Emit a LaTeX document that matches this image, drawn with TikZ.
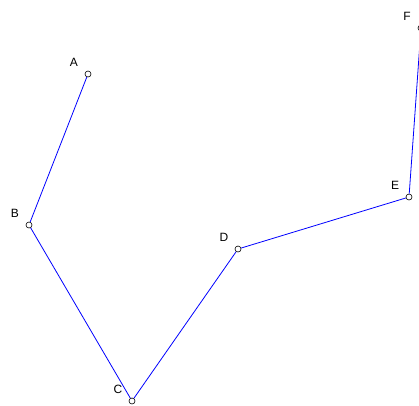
\documentclass[tikz,border=0pt]{standalone}
\usepackage{fontspec}
\setmainfont{Liberation Sans}
\usetikzlibrary{positioning}

\begin{document}
\begin{tikzpicture}[x=1pt,y=-1pt,
    pt/.style={circle,draw=black,fill=white,line width=0.6pt,inner sep=0pt,minimum size=6pt},
    lbl/.style={font=\fontsize{12}{14}\selectfont,inner sep=0pt}]
  % frame
  \clip (0,0) rectangle (419,405);
  \useasboundingbox (0,0) rectangle (419,405);
  % points and their letters
  \foreach \n/\x/\y in {A/88/74, B/29/225, C/132/401, D/238/249, E/409/197, F/421/28}
  {
    \node[pt] (\n) at (\x,\y) {};
    \node[lbl] (l\n) at (\x-14,\y-12) {\n};
  }
  % polyline
  \draw[blue,line width=0.8pt] (A) -- (B) -- (C) -- (D) -- (E) -- (F);
\end{tikzpicture}
\end{document}
